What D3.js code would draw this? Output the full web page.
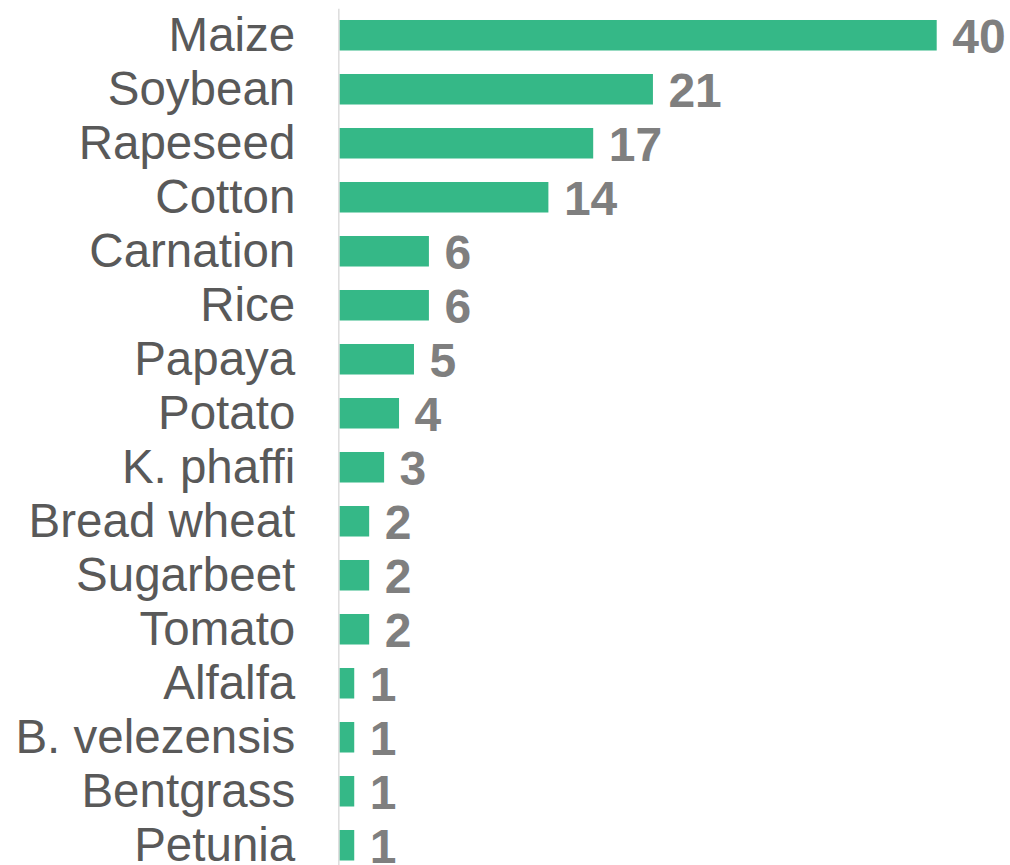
<!DOCTYPE html>
<html>
<head>
<meta charset="utf-8">
<script src="https://cdn.jsdelivr.net/npm/d3@7"></script>
<style>
  html, body { margin: 0; padding: 0; background: #fff; }
  svg { display: block; }
</style>
</head>
<body>
<svg id="chart" width="1010" height="865"></svg>
<script>
const categories = ["Maize","Soybean","Rapeseed","Cotton","Carnation","Rice","Papaya","Potato","K. phaffi","Bread wheat","Sugarbeet","Tomato","Alfalfa","B. velezensis","Bentgrass","Petunia"];
const values = [40,21,17,14,6,6,5,4,3,2,2,2,1,1,1,1];

const svg = d3.select("#chart");
const x0 = 339.3;
const x = d3.scaleLinear().domain([0, 40]).range([x0, 936.7]);
const y = d3.scaleBand().domain(categories).range([8.25, 872.25])
  .paddingInner(0.435).paddingOuter(0.2175);

const data = categories.map((c, i) => ({ c, v: values[i] }));

svg.append("g").selectAll("rect").data(data).join("rect")
  .attr("x", x(0))
  .attr("y", d => y(d.c))
  .attr("width", d => x(d.v) - x(0))
  .attr("height", y.bandwidth())
  .attr("fill", "#35b887");

const axis = svg.append("g").attr("transform", "translate(338.3,0)")
  .call(d3.axisLeft(y).tickSize(0).tickPadding(43));
axis.select(".domain").attr("stroke", "#dedede").attr("stroke-width", 1.6);
axis.selectAll("text")
  .attr("font-family", "Liberation Sans, Arial, sans-serif")
  .attr("font-size", 47.5)
  .attr("fill", "#595959")
  .attr("dy", null)
  .attr("dominant-baseline", null)
  .attr("y", 15.5);

svg.append("g").selectAll("text").data(data).join("text")
  .attr("x", d => x(d.v) + 15.5)
  .attr("y", d => y(d.c) + y.bandwidth() / 2 + 17.5)
  .attr("font-family", "Liberation Sans, Arial, sans-serif")
  .attr("font-size", 48)
  .attr("font-weight", "bold")
  .attr("fill", "#7f7f7f")
  .text(d => d.v);
</script>
</body>
</html>
